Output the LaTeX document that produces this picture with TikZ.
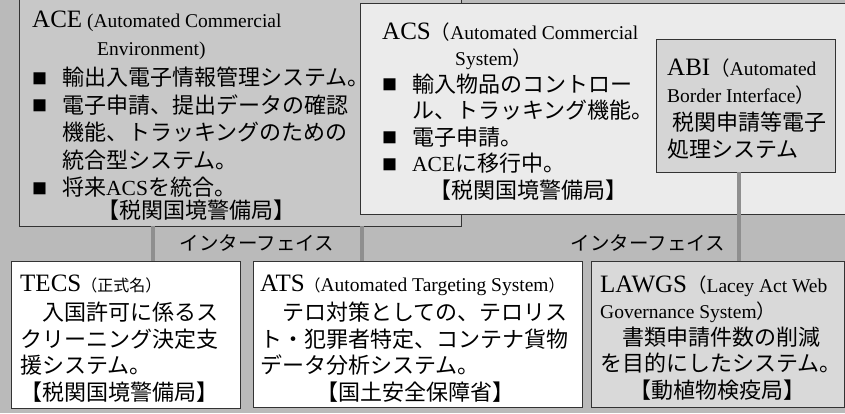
\documentclass[tikz,border=0pt]{standalone}
\usepackage{fontspec}
\setmainfont{Noto Sans CJK JP}
\newfontfamily\tms{Liberation Serif}
\usepackage{tikz}
\usetikzlibrary{positioning,calc}
\definecolor{bggray}{HTML}{BABABA}
\definecolor{acefill}{HTML}{C8C8C8}
\definecolor{acsfill}{HTML}{EBEBEB}
\definecolor{abifill}{HTML}{D5D5D5}
\definecolor{lawgsfill}{HTML}{D9D9D9}
\definecolor{edgecol}{HTML}{333333}
\definecolor{linkcol}{HTML}{8F8F8F}
\newcommand{\bul}{\makebox[30pt][l]{\raisebox{1.5pt}{\fontsize{15}{15}\selectfont ■}}}
\newcommand{\ind}[1]{\hspace*{#1pt}}
\newcommand{\sysname}[1]{{\tms\fontsize{25}{25}\selectfont #1}}
\newcommand{\sysfull}[1]{{\tms\fontsize{19.5}{19.5}\selectfont #1}}
\newcommand{\inl}[1]{{\tms\fontsize{21.5}{21.5}\selectfont #1}}
\newcommand{\fwp}[1]{{\fontsize{19.5}{19.5}\selectfont #1}}
\newcommand{\smp}[1]{{\fontsize{16}{16}\selectfont #1}}

\begin{document}
\begin{tikzpicture}[x=1pt,y=1pt,font=\fontsize{22}{26.5}\selectfont,
  panel/.style={draw=edgecol,line width=1pt,anchor=north west,inner sep=0pt,outer sep=0pt},
  body/.style={anchor=base west,align=left,inner sep=0pt},
  link/.style={draw=linkcol,line width=4pt},
  iflabel/.style={font=\fontsize{19.5}{19.5}\selectfont,inner sep=0pt}]

\useasboundingbox (0,0) rectangle (845,-413);
\clip (0,0) rectangle (845,-413);
\fill[bggray] (0,0) rectangle (845,-413);

% upper systems (text nodes sit on their last baseline)
\node[panel,fill=acefill,minimum width=442pt,minimum height=236pt] (ace) at (19,10) {};
\node[body,font=\fontsize{22}{27.5}\selectfont] (acetxt) at ($(ace.north west)+(13,-228)$)
{\sysname{ACE} \sysfull{(Automated Commercial}\\
\ind{65}\sysfull{Environment)}\\[3pt]
\bul 輸出入電子情報管理システム。\\
\bul 電子申請、提出データの確認\\
\ind{30}機能、トラッキングのための\\
\ind{30}統合型システム。\\
\bul 将来\inl{ACS}を統合。\\[-5pt]
\ind{65}【税関国境警備局】};

\node[panel,fill=acsfill,minimum width=487pt,minimum height=211pt] (acs) at (360,-3) {};
\node[body] (acstxt) at ($(acs.north west)+(22,-195)$)
{\sysname{ACS}\fwp{（}\sysfull{Automated Commercial}\\
\ind{73}\sysfull{System}\fwp{）}\\
\bul 輸入物品のコントロー\\
\ind{30}ル、トラッキング機能。\\
\bul 電子申請。\\
\bul \inl{ACE}に移行中。\\
\ind{47}【税関国境警備局】};

\node[panel,fill=abifill,minimum width=179pt,minimum height=133pt] (abi) at (656,-39) {};
\node[body] (abitxt) at ($(abi.north west)+(11,-118)$)
{\sysname{ABI}\fwp{（}\sysfull{Automated}\\
\sysfull{Border Interface}\fwp{）}\\[2pt]
\ind{5}税関申請等電子\\
処理システム};

% lower systems
\node[panel,fill=white,minimum width=229pt,minimum height=147pt] (tecs) at (11,-261) {};
\node[body] (tecstxt) at ($(tecs.north west)+(9,-139)$)
{\sysname{TECS}\smp{（正式名）}\\[3pt]
　入国許可に係るス\\
クリーニング決定支\\
援システム。\\
【税関国境警備局】};

\node[panel,fill=white,minimum width=329pt,minimum height=146pt] (ats) at (253,-261) {};
\node[body] (atstxt) at ($(ats.north west)+(7,-139)$)
{\sysname{ATS}\smp{（}\sysfull{Automated Targeting System}\smp{）}\\[3pt]
　テロ対策としての、テロリス\\
ト・犯罪者特定、コンテナ貨物\\
データ分析システム。\\
\ind{56}【国土安全保障省】};

\node[panel,fill=lawgsfill,minimum width=253pt,minimum height=146pt] (lawgs) at (591,-261) {};
\node[body] (lawgstxt) at ($(lawgs.north west)+(9,-137)$)
{\sysname{LAWGS}\fwp{（}\sysfull{Lacey Act Web}\\
\sysfull{Governance System}\fwp{）}\\
　書類申請件数の削減\\
を目的にしたシステム。\\
\ind{29}【動植物検疫局】};

% interfaces
\coordinate (tecsport) at ($(tecs.north west)+(142,0)$);
\coordinate (atsport) at ($(ats.north west)+(109,0)$);
\coordinate (lawgsport) at ($(lawgs.north west)+(148,0)$);
\draw[link] (tecsport) -- (tecsport |- ace.south);
\draw[link] (atsport) -- (atsport |- ace.south);
\draw[link] (lawgsport) -- (lawgsport |- abi.south);

\node[iflabel] (ifleft) at (257,-243) {インターフェイス};
\node[iflabel] (ifright) at (648,-243) {インターフェイス};

\end{tikzpicture}
\end{document}
